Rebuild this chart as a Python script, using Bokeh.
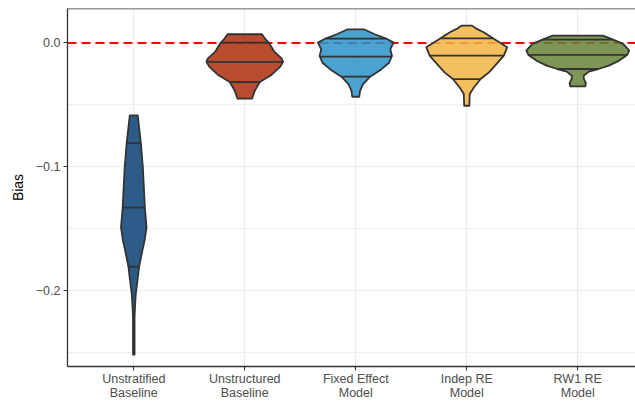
import numpy as np
from bokeh.plotting import figure
from bokeh.models import Range1d, FixedTicker, Span
from bokeh.embed import file_html
from bokeh.resources import INLINE

# ---------------- data ----------------
categories = ["Unstratified\nBaseline", "Unstructured\nBaseline", "Fixed Effect\nModel",
              "Indep RE\nModel", "RW1 RE\nModel"]
colors = ["#084073", "#AB2F0B", "#2A93C9", "#F2B443", "#668337"]

# violin outlines: bias level (top -> bottom) and half-width (category units)
v1_y = [-0.0586, -0.0810, -0.1007, -0.1331, -0.1490, -0.1600, -0.1680, -0.1809, -0.1900, -0.1980, -0.2030, -0.2115, -0.2220, -0.2518]
v1_w = [0.036, 0.064, 0.082, 0.100, 0.115, 0.097, 0.077, 0.048, 0.036, 0.025, 0.018, 0.012, 0.007, 0.007]

v2_y = [0.0070, 0.0035, 0.0003, -0.0073, -0.0127, -0.0154, -0.0194, -0.0262, -0.0316, -0.0384, -0.0451]
v2_w = [0.155, 0.182, 0.216, 0.268, 0.334, 0.345, 0.318, 0.236, 0.136, 0.091, 0.065]

v3_y = [0.0110, 0.0070, 0.0035, 0.0002, -0.0052, -0.0105, -0.0160, -0.0214, -0.0273, -0.0335, -0.0389, -0.0435]
v3_w = [0.073, 0.171, 0.273, 0.341, 0.311, 0.326, 0.300, 0.229, 0.129, 0.064, 0.038, 0.032]

v4_y = [0.0140, 0.0113, 0.0086, 0.0037, -0.0036, -0.0103, -0.0184, -0.0238, -0.0292, -0.0360, -0.0386, -0.0413, -0.0508]
v4_w = [0.045, 0.091, 0.152, 0.236, 0.364, 0.334, 0.255, 0.200, 0.125, 0.064, 0.045, 0.027, 0.023]

v5_y = [0.0059, 0.0027, -0.0008, -0.0062, -0.0097, -0.0143, -0.0184, -0.0211, -0.0232, -0.0265, -0.0291, -0.0324, -0.0351]
v5_w = [0.227, 0.318, 0.409, 0.464, 0.445, 0.373, 0.280, 0.185, 0.100, 0.053, 0.055, 0.073, 0.068]

# quartiles (75%, 50%, 25%)
q_upper = [-0.0810, 0.0003, 0.0035, 0.0037, 0.0027]
q_median = [-0.1331, -0.0154, -0.0111, -0.0103, -0.0097]
q_lower = [-0.1809, -0.0316, -0.0273, -0.0292, -0.0211]

y_ticks = [0.0, -0.1, -0.2]
y_minor = [-0.05, -0.15, -0.25]
y_tick_labels = ["0.0", "\u22120.1", "\u22120.2"]

profiles_y = [v1_y, v2_y, v3_y, v4_y, v5_y]
profiles_w = [v1_w, v2_w, v3_w, v4_w, v5_w]

# ---------------- figure ----------------
x_start = 0.403
x_end = x_start + 568 / 111.0
y_end = 0.0278
y_start = -0.2615

p = figure(width=635, height=402, output_backend="svg", toolbar_location=None,
           x_range=Range1d(x_start, x_end), y_range=Range1d(y_start, y_end),
           min_border_left=67, min_border_right=0, min_border_top=8, min_border_bottom=33)
p.outline_line_color = None
p.background_fill_color = "white"
p.border_fill_color = "white"

positions = list(range(1, len(categories) + 1))

# axes
p.xaxis.ticker = FixedTicker(ticks=positions)
p.xaxis.major_label_overrides = {pos: lab for pos, lab in zip(positions, categories)}
p.yaxis.ticker = FixedTicker(ticks=y_ticks, minor_ticks=y_minor)
p.yaxis.major_label_overrides = {t: l for t, l in zip(y_ticks, y_tick_labels)}

for ax in (p.xaxis[0], p.yaxis[0]):
    ax.axis_line_color = "#333333"
    ax.axis_line_width = 1.3
    ax.major_tick_line_color = "#333333"
    ax.major_tick_line_width = 1.1
    ax.major_tick_out = 4
    ax.major_tick_in = 0
    ax.minor_tick_line_color = None
    ax.major_label_text_color = "#4D4D4D"
    ax.major_label_text_font = "Liberation Sans"
    ax.major_label_text_font_size = "12.5px"

p.xaxis.major_label_standoff = 1
p.xaxis.major_label_text_line_height = 1.0
p.yaxis.major_label_standoff = 3
p.yaxis.axis_label = "Bias"
p.yaxis.axis_label_text_font = "Liberation Sans"
p.yaxis.axis_label_text_font_size = "14px"
p.yaxis.axis_label_text_font_style = "normal"
p.yaxis.axis_label_text_color = "black"
p.yaxis.axis_label_standoff = 7

# grids
p.xgrid.ticker = FixedTicker(ticks=positions)
p.xgrid.grid_line_color = "#EBEBEB"
p.xgrid.grid_line_width = 1.2
p.ygrid.ticker = FixedTicker(ticks=y_ticks, minor_ticks=y_minor)
p.ygrid.grid_line_color = "#EBEBEB"
p.ygrid.grid_line_width = 1.2
p.ygrid.minor_grid_line_color = "#EBEBEB"
p.ygrid.minor_grid_line_width = 0.8

# reference line at zero (below violins)
p.add_layout(Span(location=0, dimension="width", line_color="#FF0000", line_width=2,
                  line_dash="9 5", level="underlay"))

# violins
xs, ys = [], []
for pos, yy, ww in zip(positions, profiles_y, profiles_w):
    yy = np.asarray(yy)
    ww = np.asarray(ww)
    xs.append(list(pos + ww) + list((pos - ww)[::-1]))
    ys.append(list(yy) + list(yy[::-1]))
p.patches(xs=xs, ys=ys, fill_color=colors, fill_alpha=0.85,
          line_color="#333333", line_width=1.8, line_join="round")

# quantile lines
x0, x1, yq = [], [], []
for pos, yy, ww, qs in zip(positions, profiles_y, profiles_w, zip(q_upper, q_median, q_lower)):
    yy_r = np.asarray(yy)[::-1]
    ww_r = np.asarray(ww)[::-1]
    for q in qs:
        hw = float(np.interp(q, yy_r, ww_r))
        x0.append(pos - hw)
        x1.append(pos + hw)
        yq.append(q)
p.segment(x0=x0, y0=yq, x1=x1, y1=yq, line_color="#333333", line_width=1.8)

# top border
p.add_layout(Span(location=y_end, dimension="width", line_color="#333333", line_width=1.3,
                  level="overlay"))

open("out.html", "w").write(file_html(p, INLINE))
